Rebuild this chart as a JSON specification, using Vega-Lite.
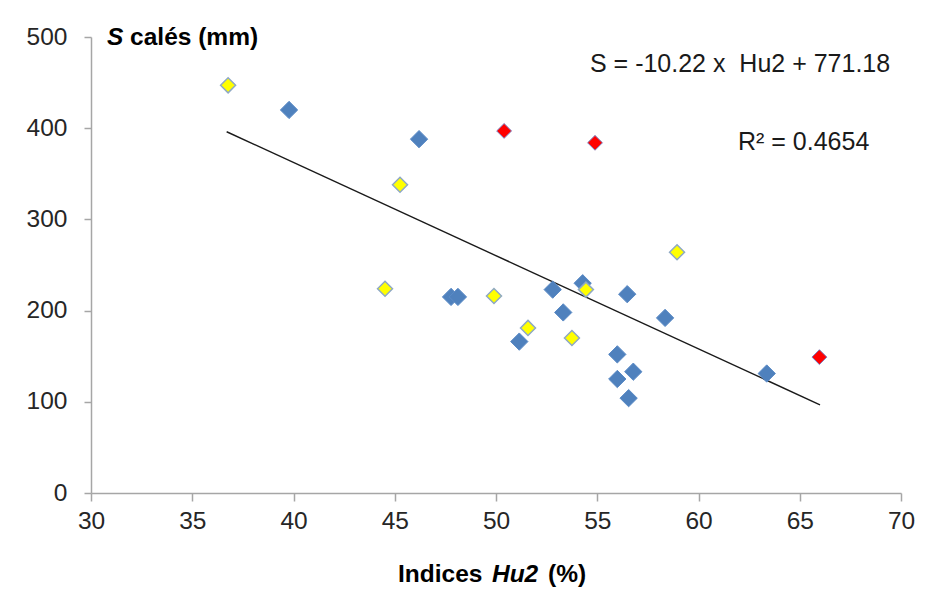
{
  "$schema": "https://vega.github.io/schema/vega-lite/v6.json",
  "width": 810,
  "height": 456,
  "autosize": {"type": "none"},
  "padding": {"left": 91, "top": 37, "right": 24, "bottom": 102},
  "background": "white",
  "config": {
    "view": {"stroke": null},
    "font": "Liberation Sans",
    "axis": {
      "grid": false,
      "domainColor": "#A6A6A6",
      "domainWidth": 1.5,
      "tickColor": "#A6A6A6",
      "tickWidth": 1.5,
      "labelFont": "Liberation Sans",
      "labelFontSize": 24.5,
      "labelColor": "#262626",
      "labelFlush": false,
      "title": null
    }
  },
  "datasets": {
    "points": [
      {"hu2": 36.77, "s": 447, "group": "yellow"},
      {"hu2": 45.26, "s": 338, "group": "yellow"},
      {"hu2": 44.52, "s": 224, "group": "yellow"},
      {"hu2": 49.9, "s": 216, "group": "yellow"},
      {"hu2": 51.58, "s": 181, "group": "yellow"},
      {"hu2": 54.44, "s": 223, "group": "yellow"},
      {"hu2": 53.75, "s": 170, "group": "yellow"},
      {"hu2": 58.94, "s": 264, "group": "yellow"},
      {"hu2": 39.78, "s": 420, "group": "blue"},
      {"hu2": 46.2, "s": 388, "group": "blue"},
      {"hu2": 47.78, "s": 215, "group": "blue"},
      {"hu2": 48.12, "s": 215, "group": "blue"},
      {"hu2": 52.8, "s": 223, "group": "blue"},
      {"hu2": 54.28, "s": 230, "group": "blue"},
      {"hu2": 53.32, "s": 198, "group": "blue"},
      {"hu2": 51.15, "s": 166, "group": "blue"},
      {"hu2": 56.48, "s": 218, "group": "blue"},
      {"hu2": 58.35, "s": 192, "group": "blue"},
      {"hu2": 55.99, "s": 152, "group": "blue"},
      {"hu2": 56.78, "s": 133, "group": "blue"},
      {"hu2": 55.99, "s": 125, "group": "blue"},
      {"hu2": 56.55, "s": 104, "group": "blue"},
      {"hu2": 63.37, "s": 131, "group": "blue"},
      {"hu2": 50.4, "s": 397, "group": "red"},
      {"hu2": 54.89, "s": 384, "group": "red"},
      {"hu2": 65.97, "s": 149, "group": "red"}
    ],
    "trend": [
      {"hu2": 36.7, "s": 396.1},
      {"hu2": 66.0, "s": 96.7}
    ]
  },
  "layer": [
    {
      "data": {"name": "trend"},
      "mark": {"type": "line", "color": "#1a1a1a", "strokeWidth": 1.4},
      "encoding": {
        "x": {"field": "hu2", "type": "quantitative", "scale": {"domain": [30, 70], "nice": false, "zero": false},
          "axis": {"values": [30, 35, 40, 45, 50, 55, 60, 65, 70], "tickSize": 8, "labelPadding": 8}},
        "y": {"field": "s", "type": "quantitative", "scale": {"domain": [0, 500], "nice": false},
          "axis": {"values": [0, 100, 200, 300, 400, 500], "tickSize": 7, "labelPadding": 17}}
      }
    },
    {
      "data": {"name": "points"},
      "transform": [{"filter": "datum.group === 'blue'"}],
      "mark": {"type": "point", "shape": "diamond", "filled": true, "size": 300, "color": "#4F81BD", "stroke": "#5B8BC6", "strokeWidth": 1, "opacity": 1},
      "encoding": {
        "x": {"field": "hu2", "type": "quantitative"},
        "y": {"field": "s", "type": "quantitative"}
      }
    },
    {
      "data": {"name": "points"},
      "transform": [{"filter": "datum.group === 'yellow'"}],
      "mark": {"type": "point", "shape": "diamond", "filled": true, "size": 225, "fill": "#FFFF00", "stroke": "#8FA9C4", "strokeWidth": 1.5, "opacity": 1},
      "encoding": {
        "x": {"field": "hu2", "type": "quantitative"},
        "y": {"field": "s", "type": "quantitative"}
      }
    },
    {
      "data": {"name": "points"},
      "transform": [{"filter": "datum.group === 'red'"}],
      "mark": {"type": "point", "shape": "diamond", "filled": true, "size": 220, "fill": "#FF0000", "stroke": "#7A7FC0", "strokeWidth": 1, "opacity": 1},
      "encoding": {
        "x": {"field": "hu2", "type": "quantitative"},
        "y": {"field": "s", "type": "quantitative"}
      }
    },
    {
      "data": {"values": [{"x": 54.64, "y": 470, "label": "S = -10.22 x \u00a0Hu2 + 771.18"}, {"x": 61.95, "y": 385, "label": "R² = 0.4654"}]},
      "mark": {"type": "text", "align": "left", "baseline": "middle", "fontSize": 25, "font": "Liberation Sans", "color": "#1a1a1a", "clip": false},
      "encoding": {
        "x": {"field": "x", "type": "quantitative"},
        "y": {"field": "y", "type": "quantitative"},
        "text": {"field": "label"}
      }
    },
    {
      "data": {"values": [{"x": 30.79, "y": 499, "label": "S"}, {"x": 49.8, "y": -90, "label": "Hu2"}]},
      "mark": {"type": "text", "align": "left", "baseline": "middle", "fontSize": 24.5, "font": "Liberation Sans", "fontWeight": "bold", "fontStyle": "italic", "color": "#000000", "clip": false},
      "encoding": {
        "x": {"field": "x", "type": "quantitative"},
        "y": {"field": "y", "type": "quantitative"},
        "text": {"field": "label"}
      }
    },
    {
      "data": {"values": [{"x": 31.93, "y": 499, "label": "calés (mm)"}, {"x": 45.16, "y": -90, "label": "Indices"}, {"x": 52.57, "y": -90, "label": "(%)"}]},
      "mark": {"type": "text", "align": "left", "baseline": "middle", "fontSize": 24.5, "font": "Liberation Sans", "fontWeight": "bold", "color": "#000000", "clip": false},
      "encoding": {
        "x": {"field": "x", "type": "quantitative"},
        "y": {"field": "y", "type": "quantitative"},
        "text": {"field": "label"}
      }
    }
  ]
}
